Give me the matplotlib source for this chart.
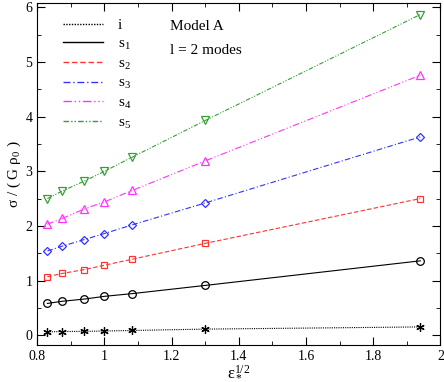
import matplotlib
matplotlib.use("Agg")
import matplotlib.pyplot as plt
from matplotlib.ticker import MultipleLocator

plt.rcParams["font.family"] = "Liberation Serif"
plt.rcParams["mathtext.fontset"] = "custom"
plt.rcParams["mathtext.rm"] = "Liberation Serif"
plt.rcParams["mathtext.it"] = "Liberation Serif:italic"

# --------------------------------------------------------
# Data
# --------------------------------------------------------

eps_sqrt = [0.83, 0.875, 0.94, 1.0, 1.083, 1.30, 1.94]

i_mode = [0.06, 0.065, 0.07, 0.075, 0.085, 0.11, 0.15]
s1 = [0.58, 0.62, 0.66, 0.71, 0.76, 0.91, 1.36]
s2 = [1.07, 1.13, 1.20, 1.28, 1.39, 1.68, 2.50]
s3 = [1.54, 1.63, 1.75, 1.86, 2.02, 2.42, 3.63]
s4 = [2.03, 2.14, 2.31, 2.44, 2.65, 3.19, 4.76]
s5 = [2.50, 2.64, 2.82, 3.00, 3.26, 3.93, 5.87]

labels = ["i", "s$_1$", "s$_2$", "s$_3$", "s$_4$", "s$_5$"]

# --------------------------------------------------------
# Styles
# --------------------------------------------------------

series = [i_mode, s1, s2, s3, s4, s5]
colors = ["black", "black", "#ff3333", "#3333ff", "#ff33ff", "#33a033"]
styles = [
    (0, (1, 1)),
    "-",
    (0, (4, 2)),
    (0, (5, 2, 1, 2)),
    (0, (6, 2, 1, 2, 1, 2)),
    (0, (4, 1.5, 1, 1.5, 1, 1.5)),
]
markers = [(6, 2, 0), "o", "s", "D", "^", "v"]
sizes = [6, 5.5, 5, 4.2, 5.5, 5.5]

fig, ax = plt.subplots(figsize=(4.44, 3.82), dpi=100)
fig.subplots_adjust(left=0.084, right=0.992, top=0.992, bottom=0.097)

for ys, c, ls, m, ms, lab in zip(series, colors, styles, markers, sizes, labels):
    ax.plot(eps_sqrt, ys, color=c, linestyle=ls, linewidth=0.8, zorder=2)
    ax.plot(
        eps_sqrt, ys,
        linestyle="none",
        marker=m,
        markersize=ms,
        markerfacecolor="none",
        markeredgecolor=c,
        markeredgewidth=0.9,
        zorder=3,
    )
    ax.plot([], [], color=c, linestyle=ls, linewidth=1.0, label=lab)

ax.set_xlim(0.8, 2.0)
ax.set_ylim(-0.18, 6.08)

ax.xaxis.set_major_locator(MultipleLocator(0.2))
ax.xaxis.set_minor_locator(MultipleLocator(0.1))
ax.yaxis.set_major_locator(MultipleLocator(1))
ax.yaxis.set_minor_locator(MultipleLocator(0.5))
ax.xaxis.set_major_formatter(plt.FuncFormatter(lambda v, p: f"{v:g}"))

ax.tick_params(which="both", direction="in", top=True, right=True, labelsize=10)
ax.tick_params(which="major", length=6)
ax.tick_params(which="minor", length=3)

ax.set_xlabel("ε$_*^{1/2}$", fontsize=12, labelpad=1)
ax.set_ylabel(r"σ / ( G ρ$_0$ )", fontsize=11, labelpad=2)

ax.legend(
    loc="upper left",
    bbox_to_anchor=(0.03, 0.995),
    frameon=False,
    fontsize=11,
    handlelength=2.6,
    handletextpad=1.0,
    labelspacing=0.32,
)

ax.text(0.33, 0.92, "Model A", transform=ax.transAxes, fontsize=11)
ax.text(0.33, 0.851, "l = 2 modes", transform=ax.transAxes, fontsize=11)

fig.savefig("out.png", dpi=100)
